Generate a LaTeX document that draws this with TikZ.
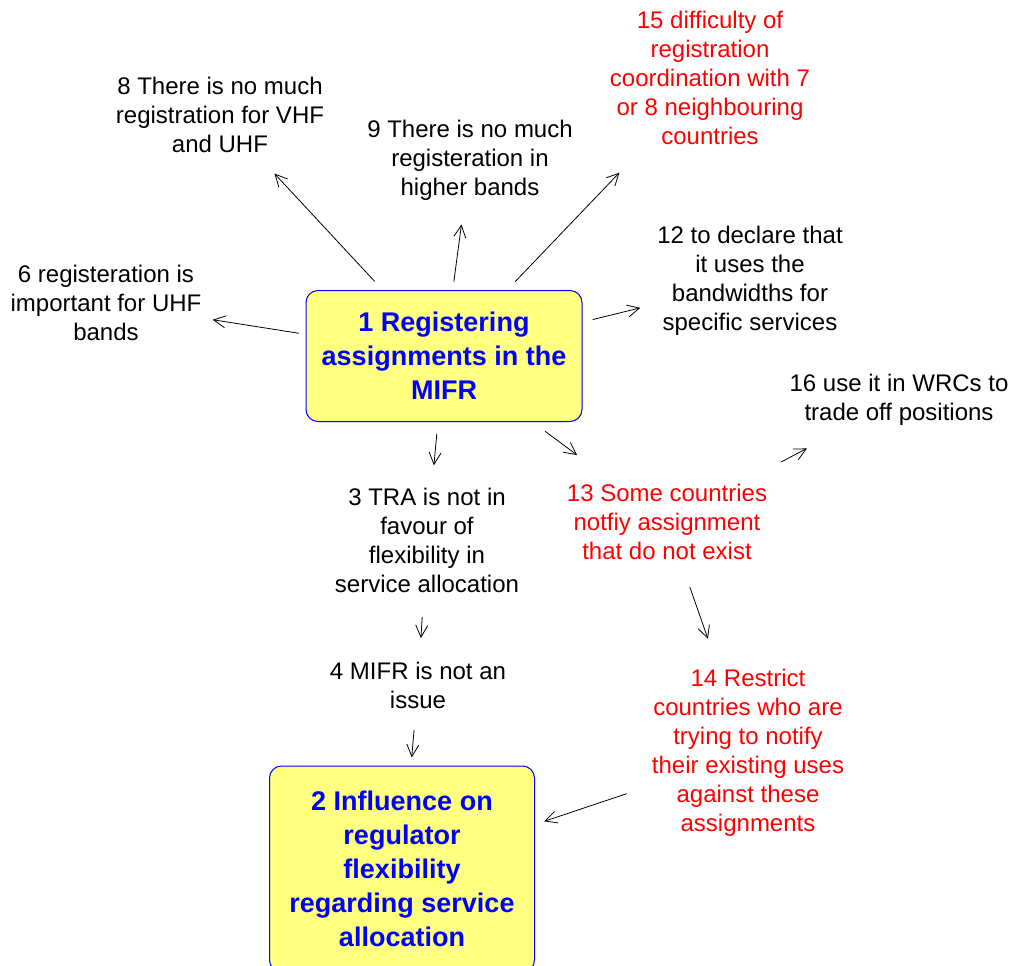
\documentclass[tikz,border=0pt]{standalone}
\usepackage{fontspec}
\setmainfont{Liberation Sans}
\usetikzlibrary{arrows.meta}
\definecolor{boxfill}{RGB}{255,255,128}
\definecolor{boxblue}{RGB}{0,0,255}
\definecolor{txtred}{RGB}{255,0,0}
\tikzset{
  lbl/.style={align=center, inner sep=0pt, font=\fontsize{24}{29}\selectfont},
  redlbl/.style={lbl, text=txtred},
  keybox/.style={draw=boxblue, fill=boxfill, rounded corners=12pt, line width=1pt,
    align=center, text=boxblue, inner sep=0pt, font=\fontsize{27}{34}\selectfont\bfseries},
  arr/.style={line width=0.8pt, -{Straight Barb[length=12pt,width=12pt]}},
}
\begin{document}
\begin{tikzpicture}[x=1pt,y=-1pt]
\useasboundingbox (0,0) rectangle (1018,966);
\node[keybox, minimum width=276pt, minimum height=131pt] (n1) at (444,356) {1 Registering\\assignments in the\\MIFR};
\node[keybox, minimum width=265pt, minimum height=206pt] (n2) at (402,869) {2 Influence on\\regulator\\flexibility\\regarding service\\allocation};
\node[redlbl] (n15) at (710,78) {15 difficulty of\\registration\\coordination with 7\\or 8 neighbouring\\countries};
\node[lbl] (n8) at (220,115) {8 There is no much\\registration for VHF\\and UHF};
\node[lbl] (n9) at (470,160) {9 There is no much\\registeration in\\higher bands};
\node[lbl] (n12) at (750,281) {12 to declare that\\it uses the\\bandwidths for\\specific services};
\node[lbl] (n6) at (106,303) {6 registeration is\\important for UHF\\bands};
\node[lbl] (n16) at (899,400) {16 use it in WRCs to\\trade off positions};
\node[lbl] (n3) at (427,540) {3 TRA is not in\\favour of\\flexibility in\\service allocation};
\node[redlbl] (n13) at (667,522) {13 Some countries\\notfiy assignment\\that do not exist};
\node[lbl] (n4) at (418,685) {4 MIFR is not an\\issue};
\node[redlbl] (n14) at (748,753) {14 Restrict\\countries who are\\trying to notify\\their existing uses\\against these\\assignments};

\draw[arr, shorten <=102pt, shorten >=80pt] (n1.center) -- (n8.center);
\draw[arr, shorten <=75pt, shorten >=65pt] (n1.center) -- (n9.center);
\draw[arr, shorten <=103pt, shorten >=131pt] (n1.center) -- (n15.center);
\draw[arr, shorten <=153pt, shorten >=113pt] (n1.center) -- (n12.center);
\draw[arr, shorten <=147pt, shorten >=108pt] (n1.center) -- (n6.center);
\draw[arr, shorten <=78pt, shorten >=75pt] (n1.center) -- (n3.center);
\draw[arr, shorten <=126pt, shorten >=112pt] (n1.center) -- (n13.center);
\draw[arr, shorten <=129pt, shorten >=104pt] (n13.center) -- (n16.center);
\draw[arr, shorten <=69pt, shorten >=121pt] (n13.center) -- (n14.center);
\draw[arr, shorten <=77pt, shorten >=47pt] (n3.center) -- (n4.center);
\draw[arr, shorten <=45pt, shorten >=112pt] (n4.center) -- (n2.center);
\draw[arr, shorten <=128pt, shorten >=150pt] (n14.center) -- (n2.center);
\end{tikzpicture}
\end{document}
